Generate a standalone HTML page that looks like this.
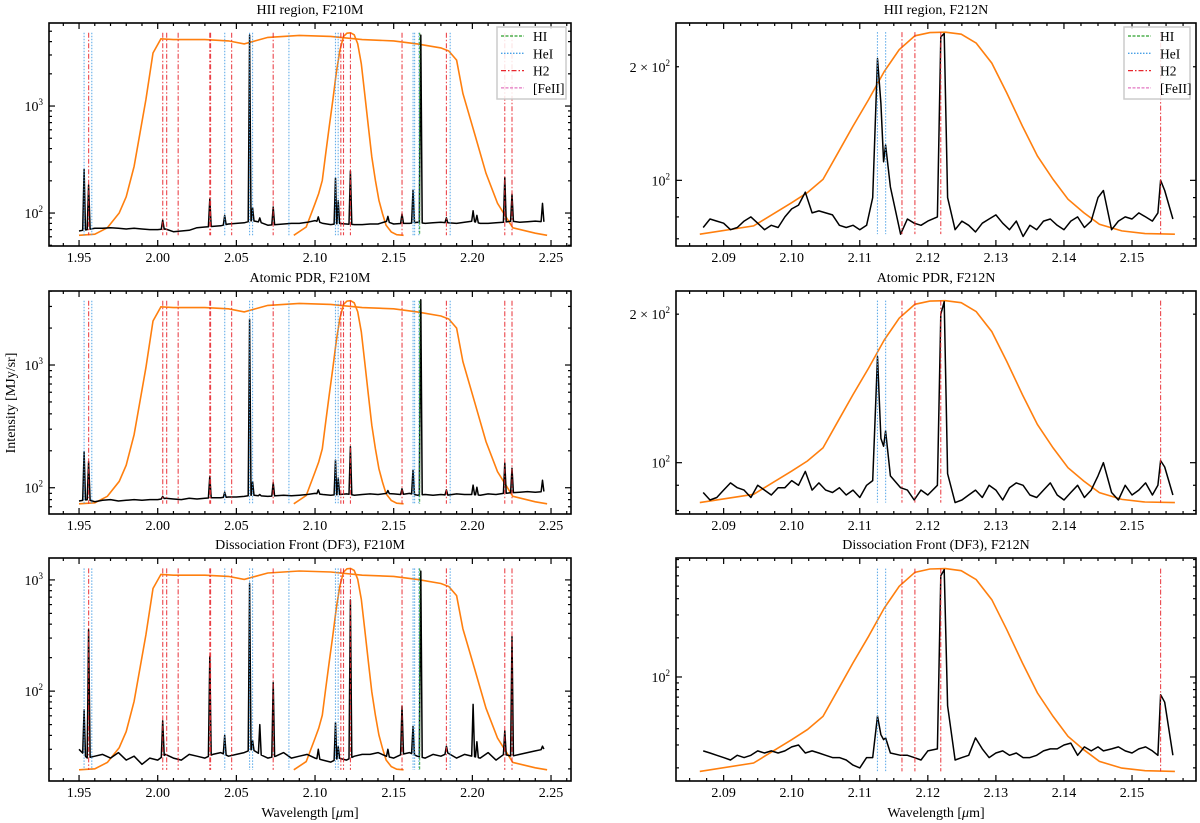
<!DOCTYPE html>
<html><head><meta charset="utf-8"><title>Spectra</title>
<style>
html,body{margin:0;padding:0;background:#fff;}
svg{display:block;font-family:"Liberation Serif",serif;}
</style></head>
<body>
<svg id="fig" width="1200" height="823" viewBox="0 0 1200 823" xmlns="http://www.w3.org/2000/svg"></svg>
<script>
// ---------- DATA ----------
const leftGridStart = 1.95, leftGridStep = 0.005;
const tlCont = [68,70,72,72,73,72,71,72,71,70, 70,71,67,68,69,73,74,75,76,79, 80,81,85,82,77,78,79,80,80,82, 85,80,78,80,79,78,78,79,79,84, 79,80,80,82,80,81,82,81,80,82, 84,80,80,81,82,84,82,83,84,83];
const mlCont = [78,80,77,79,80,78,79,80,79,80, 80,82,81,80,82,81,82,83,83,84, 84,85,87,86,85,86,87,86,87,88, 90,88,87,88,89,87,88,89,88,90, 89,88,90,87,88,87,88,87,89,88, 88,87,89,88,90,91,92,93,92,93];
const blCont = [30,25,26,27,25,28,24,26,22,25, 24,27,25,24,27,26,25,27,28,26, 27,28,30,27,25,26,28,25,26,27, 25,24,23,25,24,26,27,27,28,26, 25,27,28,26,25,27,26,28,25,27, 26,25,28,24,27,26,27,28,29,30];
const leftPeakWl = [1.9532,1.9561,2.0032,2.0331,2.0426,2.0584,2.0603,2.0649,2.0734,2.1021,2.1130,2.1147,2.1225,2.1463,2.1553,2.1623,2.1672,2.1835,2.2005,2.2029,2.2206,2.2252,2.2446];
const tlPeaks = [256,183,86,135,95,4600,112,90,114,92,212,130,247,93,98,164,4600,90,105,95,215,150,123];
const mlPeaks = [197,163,85,124,92,2360,112,88,110,96,168,120,216,95,98,139,3400,96,105,101,159,144,115];
const blPeaks = [68,357,54,205,40,930,36,50,119,30,52,32,660,30,73,48,1200,32,76,35,44,309,32];
const rightGridStart = 2.087, rightGridStep = 0.001;
const trCont = [75,79,78,77,74,75,78,80,77,74, 76,75,80,84,86,93,82,83,82,81, 76,75,76,74,76,75,76,80,76,72, 79,77,76,78,76,77,75,74,78,76, 73,77,79,81,77,74,78,71,76,74, 78,79,76,74,78,80,75,78,90,80, 74,78,80,79,82,80,78,96,82,79];
const mrCont = [87,84,85,88,91,89,88,85,90,88, 86,89,89,92,90,96,88,91,88,87, 89,86,88,85,90,88,88,88,92,89, 88,84,88,86,86,88,86,83,84,86, 88,85,90,88,84,89,91,90,86,85, 88,91,86,84,87,90,85,88,94,99, 87,84,90,86,88,91,86,95,88,86];
const brCont = [27,26,25,24,23,25,24,25,27,26, 27,26,27,29,30,26,27,26,25,24, 24,23,21,20,24,26,24,25,25,25, 25,24,23,27,28,26,26,23,24,25, 34,28,24,26,27,25,26,24,24,25, 27,28,28,30,31,25,29,27,29,28, 28,29,27,26,28,29,27,25,27,25];
const rightPeakWl = [2.1119,2.1126,2.1131,2.1135,2.1138,2.1145,2.1214,2.1219,2.1224,2.1229,2.1458,2.1538,2.1542,2.1548];
const trPeaks = [90,210,160,112,124,96,80,240,245,90,94,82,100,94];
const mrPeaks = [92,164,112,108,116,94,90,200,212,95,100,90,101,98];
const brPeaks = [24,50,36,33,34,26,28,600,668,60,27,25,73,64];
const f210Wl = [1.950,1.960,1.968,1.9755,1.980,1.985,1.9925,1.997,2.002,2.010,2.030,2.045,2.055,2.070,2.090,2.110,2.130,2.150,2.165,2.180,2.185,2.190,2.194,2.2015,2.2087,2.216,2.2257,2.240,2.2475];
const f210T = [0,0.005,0.037,0.11,0.19,0.34,0.67,0.90,0.97,0.966,0.966,0.96,0.945,0.977,0.987,0.982,0.966,0.96,0.945,0.925,0.91,0.865,0.70,0.50,0.306,0.158,0.037,0.01,0];
const f212Wl = [2.0865,2.0944,2.1000,2.1023,2.1046,2.1068,2.1090,2.1113,2.1136,2.1158,2.1181,2.1203,2.1226,2.1249,2.1271,2.1294,2.1316,2.1339,2.1361,2.1384,2.1406,2.1429,2.1452,2.1485,2.1519,2.1563];
const f212T = [0,0.041,0.156,0.206,0.271,0.403,0.535,0.666,0.806,0.913,0.982,0.998,1.0,0.990,0.946,0.847,0.699,0.535,0.387,0.271,0.173,0.107,0.049,0.016,0.003,0];
const tlFilt = [62,4840], mlFilt = [74,3340], blFilt = [19.6,1270];
const trFilt = [72,247], mrFilt = [83,213], brFilt = [18.8,681];
const leftHeI = [1.9532,1.9581,2.0426,2.0584,2.0603,2.0834,2.1130,2.1147,2.1623,2.1633,2.1660,2.1859];
const leftH2 = [1.9561,2.0032,2.0057,2.0130,2.0331,2.0336,2.0470,2.0734,2.1164,2.1181,2.1225,2.1553,2.1835,2.2206,2.2252];
const leftHI = [2.1665];
const rightHeI = [2.1126,2.1138];
const rightH2 = [2.1162,2.1181,2.1219,2.1542];
const leftTicks = [1.95,2.00,2.05,2.10,2.15,2.20,2.25];
const rightTicks = [2.09,2.10,2.11,2.12,2.13,2.14,2.15];

// ---------- LAYOUT ----------
const NS = 'http://www.w3.org/2000/svg';
const svg = document.getElementById('fig');
function mk(tag, attrs, parent){
  const e = document.createElementNS(NS, tag);
  for (const k in attrs) e.setAttribute(k, attrs[k]);
  (parent || svg).appendChild(e);
  return e;
}
function nm(el, name, inter){
  
  
  return el;
}
const L = {x0:49, x1:571, xlim:[1.9309,2.2627]};
const R = {x0:676, x1:1196, xlim:[2.083,2.1594]};
const rows = [[23,246],[291,514],[558,781]];
const panels = [
  {id:'hii-f210m', title:'HII region, F210M', col:L, row:0, ylim:[1.692,3.776], cont:tlCont, peaks:tlPeaks, filt:tlFilt, left:true, yt:[], legend:true},
  {id:'pdr-f210m', title:'Atomic PDR, F210M', col:L, row:1, ylim:[1.786,3.603], cont:mlCont, peaks:mlPeaks, filt:mlFilt, left:true, yt:[]},
  {id:'df3-f210m', title:'Dissociation Front (DF3), F210M', col:L, row:2, ylim:[1.192,3.197], cont:blCont, peaks:blPeaks, filt:blFilt, left:true, yt:[]},
  {id:'hii-f212n', title:'HII region, F212N', col:R, row:0, ylim:[1.826,2.417], cont:trCont, peaks:trPeaks, filt:trFilt, left:false, yt:[200], legend:true},
  {id:'pdr-f212n', title:'Atomic PDR, F212N', col:R, row:1, ylim:[1.896,2.348], cont:mrCont, peaks:mrPeaks, filt:mrFilt, left:false, yt:[200]},
  {id:'df3-f212n', title:'Dissociation Front (DF3), F212N', col:R, row:2, ylim:[1.2,2.915], cont:brCont, peaks:brPeaks, filt:brFilt, left:false, yt:[]}
];

panels.forEach(function(p, pi){
  const x0 = p.col.x0, x1 = p.col.x1, y0 = rows[p.row][0], y1 = rows[p.row][1];
  const xs = function(w){ return x0 + (w - p.col.xlim[0]) / (p.col.xlim[1] - p.col.xlim[0]) * (x1 - x0); };
  const ys = function(v){ return y1 - (Math.log10(v) - p.ylim[0]) / (p.ylim[1] - p.ylim[0]) * (y1 - y0); };
  const g = mk('g', {});
  nm(g, 'panel-' + p.id, false);
  const cp = mk('clipPath', {id:'cp' + pi}, g);
  mk('rect', {x:x0, y:y0, width:x1 - x0, height:y1 - y0}, cp);
  const plot = mk('g', {'clip-path':'url(#cp' + pi + ')'}, g);
  nm(plot, 'plot-area', false);

  const lo = Math.log10(p.filt[0]), hi = Math.log10(p.filt[1]);
  const fv = function(t){ return Math.pow(10, lo + t * (hi - lo)); };
  const filters = p.left ? [[f210Wl, f210T, 'filter-f210m'], [f212Wl, f212T, 'filter-f212n']] : [[f212Wl, f212T, 'filter-f212n']];
  filters.forEach(function(f){
    let d = '';
    f[0].forEach(function(w, i){ d += (i ? 'L' : 'M') + xs(w).toFixed(1) + ',' + ys(fv(f[1][i])).toFixed(1); });
    const pth = mk('path', {d:d, fill:'none', stroke:'#ff7f0e', 'stroke-width':1.6}, plot);
    nm(pth, f[2] + '-curve', false);
  });

  const gStart = p.left ? leftGridStart : rightGridStart;
  const gStep = p.left ? leftGridStep : rightGridStep;
  const pw = p.left ? leftPeakWl : rightPeakWl;
  const excl = p.left ? 0.0016 : 0.0006;
  const pts = [];
  p.cont.forEach(function(v, i){
    const w = gStart + i * gStep;
    if (pw.some(function(q){ return Math.abs(q - w) < excl; })) return;
    pts.push([w, v]);
  });
  const baseAt = function(w){
    let i = Math.floor((w - gStart) / gStep);
    i = Math.max(0, Math.min(p.cont.length - 2, i));
    const f = (w - (gStart + i * gStep)) / gStep;
    return p.cont[i] * (1 - f) + p.cont[i + 1] * f;
  };
  pw.forEach(function(w, i){
    pts.push([w, p.peaks[i]]);
    if (p.left) { pts.push([w - 0.0009, baseAt(w - 0.0009)]); pts.push([w + 0.0009, baseAt(w + 0.0009)]); }
  });
  pts.sort(function(a, b){ return a[0] - b[0]; });
  let sd = '';
  pts.forEach(function(q, i){ sd += (i ? 'L' : 'M') + xs(q[0]).toFixed(1) + ',' + ys(q[1]).toFixed(1); });
  const sp = mk('path', {d:sd, fill:'none', stroke:'#000', 'stroke-width':1.5, 'stroke-linejoin':'round'}, plot);
  nm(sp, 'spectrum-line', false);

  const yTop = ys(p.filt[1]), yBot = ys(p.filt[0]);
  const addV = function(arr, color, dash, name){
    arr.forEach(function(w){
      const ln = mk('line', {x1:xs(w), x2:xs(w), y1:yTop, y2:yBot, stroke:color, 'stroke-width':1.1, 'stroke-dasharray':dash, opacity:0.85}, plot);
      nm(ln, name, false);
    });
  };
  addV(p.left ? leftHeI : rightHeI, '#4aa0e6', '1.5,1.5', 'hei-line-marker');
  addV(p.left ? leftH2 : rightH2, '#e8262d', '5,2,1.5,2', 'h2-line-marker');
  if (p.left) addV(leftHI, '#2ca02c', '3,1.5', 'hi-line-marker');

  const fr = mk('rect', {x:x0, y:y0, width:x1 - x0, height:y1 - y0, fill:'none', stroke:'#000', 'stroke-width':1.6}, g);
  nm(fr, 'axes-frame', false);

  const ticks = p.left ? leftTicks : rightTicks;
  const minorStep = p.left ? 0.01 : 0.0025;
  for (let w = Math.ceil(p.col.xlim[0] / minorStep) * minorStep; w <= p.col.xlim[1]; w += minorStep) {
    const X = xs(w);
    const isMajor = ticks.some(function(t){ return Math.abs(t - w) < 1e-6; });
    const len = isMajor ? 6 : 3;
    const t1 = mk('line', {x1:X, x2:X, y1:y1, y2:y1 - len, stroke:'#000', 'stroke-width':1.2}, g);
    nm(t1, 'x-tick', false);
    const t2 = mk('line', {x1:X, x2:X, y1:y0, y2:y0 + len, stroke:'#000', 'stroke-width':1.2}, g);
    nm(t2, 'x-tick-top', false);
  }
  ticks.forEach(function(t){
    const tx = mk('text', {x:xs(t), y:y1 + 16, 'text-anchor':'middle', 'font-size':14, fill:'#000'}, g);
    nm(tx, 'x-tick-label', false);
    tx.textContent = t.toFixed(2);
  });

  for (let k = Math.floor(p.ylim[0]); k <= Math.ceil(p.ylim[1]); k++) {
    for (let m = 1; m <= 9; m++) {
      const lv = k + Math.log10(m);
      if (lv < p.ylim[0] || lv > p.ylim[1]) continue;
      const Y = y1 - (lv - p.ylim[0]) / (p.ylim[1] - p.ylim[0]) * (y1 - y0);
      const len = m === 1 ? 6 : 3;
      const a = mk('line', {x1:x0, x2:x0 + len, y1:Y, y2:Y, stroke:'#000', 'stroke-width':1.2}, g);
      nm(a, 'y-tick', false);
      const b = mk('line', {x1:x1, x2:x1 - len, y1:Y, y2:Y, stroke:'#000', 'stroke-width':1.2}, g);
      nm(b, 'y-tick-right', false);
      if (m === 1) {
        const lab = mk('text', {x:x0 - 6, y:Y + 5, 'text-anchor':'end', 'font-size':14, fill:'#000'}, g);
        nm(lab, 'y-tick-label', false);
        lab.innerHTML = '10<tspan dy="-6" font-size="9">' + k + '</tspan>';
      }
    }
  }
  p.yt.forEach(function(v){
    const Y = ys(v);
    const lab = mk('text', {x:x0 - 6, y:Y + 5, 'text-anchor':'end', 'font-size':14, fill:'#000'}, g);
    nm(lab, 'y-tick-label', false);
    lab.innerHTML = '2 × 10<tspan dy="-6" font-size="9">2</tspan>';
  });

  const ti = mk('text', {x:(x0 + x1) / 2, y:y0 - 9, 'text-anchor':'middle', 'font-size':14, fill:'#000'}, g);
  nm(ti, 'panel-title', false);
  ti.textContent = p.title;

  if (p.legend) {
    const lx = p.left ? 497 : 1124, lw = p.left ? 69 : 66;
    const lg = mk('g', {}, g);
    nm(lg, 'legend', false);
    const box = mk('rect', {x:lx, y:27, width:lw, height:72, fill:'#fff', 'fill-opacity':0.85, stroke:'#ccc', 'stroke-width':1.5}, lg);
    nm(box, 'legend-box', false);
    const ent = [['HI', '#2ca02c', '3,1.5'], ['HeI', '#4aa0e6', '1.5,1.5'], ['H2', '#e8262d', '5,2,1.5,2'], ['[FeII]', '#e377c2', '3,1.5']];
    ent.forEach(function(e, i){
      const Y = 36 + i * 17.3;
      const eg = mk('g', {}, lg);
      nm(eg, 'legend-entry', false);
      const ll = mk('line', {x1:lx + 4, x2:lx + 27, y1:Y, y2:Y, stroke:e[1], 'stroke-width':1.3, 'stroke-dasharray':e[2]}, eg);
      nm(ll, 'legend-swatch', false);
      const lt = mk('text', {x:lx + 36, y:Y + 5, 'font-size':13.5, fill:'#000'}, eg);
      nm(lt, 'legend-label', false);
      lt.textContent = e[0];
    });
  }
});

const yl = mk('text', {x:0, y:0, transform:'translate(15,403) rotate(-90)', 'text-anchor':'middle', 'font-size':14, fill:'#000'});
nm(yl, 'y-axis-title', false);
yl.textContent = 'Intensity [MJy/sr]';
[[310, 'x-axis-title-left'], [936, 'x-axis-title-right']].forEach(function(a){
  const t = mk('text', {x:a[0], y:817, 'text-anchor':'middle', 'font-size':14, fill:'#000'});
  nm(t, a[1], false);
  t.innerHTML = 'Wavelength [<tspan font-style="italic">μ</tspan>m]';
});
</script>
</body></html>
